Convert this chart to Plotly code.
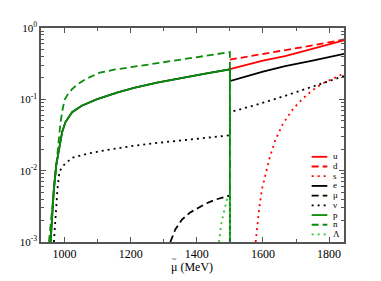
import plotly.graph_objects as go

# ---- data ----
mu_n = [953, 958, 963, 968, 973, 980, 988, 995, 1001, 1012, 1023, 1040, 1062, 1107, 1150, 1200, 1250, 1300, 1355, 1400, 1450, 1500, 1500]
n_val = [0.001, 0.0018, 0.003, 0.0055, 0.0098, 0.022, 0.048, 0.075, 0.1, 0.122, 0.139, 0.163, 0.19, 0.237, 0.26, 0.282, 0.305, 0.33, 0.363, 0.39, 0.425, 0.459, 1e-6]

mu_p = [958, 963, 968, 975, 983, 993, 1003, 1023, 1052, 1097, 1161, 1210, 1280, 1355, 1430, 1500, 1500]
p_val = [0.001, 0.0025, 0.0057, 0.012, 0.0204, 0.035, 0.048, 0.066, 0.0815, 0.1, 0.125, 0.145, 0.172, 0.202, 0.232, 0.264, 1e-6]

mu_e = [958, 963, 968, 975, 983, 993, 1003, 1023, 1052, 1097, 1161, 1210, 1280, 1355, 1430, 1500, 1500, 1600, 1667, 1750, 1845]
e_val = [0.001, 0.0025, 0.0057, 0.012, 0.0204, 0.035, 0.048, 0.066, 0.0815, 0.1, 0.125, 0.145, 0.172, 0.202, 0.232, 0.264, 0.18, 0.245, 0.293, 0.35, 0.435]

mu_nu = [968, 972, 975, 979, 985, 998, 1023, 1072, 1122, 1206, 1280, 1355, 1430, 1500, 1500, 1588, 1667, 1750, 1845]
nu_val = [0.001, 0.002, 0.0033, 0.0057, 0.0098, 0.012, 0.0152, 0.0174, 0.0193, 0.0222, 0.0245, 0.0266, 0.029, 0.0313, 0.066, 0.086, 0.112, 0.15, 0.212]

mu_muon = [1320, 1335, 1355, 1380, 1404, 1430, 1454, 1475, 1500, 1500]
muon_val = [0.001, 0.0015, 0.00206, 0.0026, 0.003, 0.0035, 0.0039, 0.0042, 0.0045, 1e-6]

mu_lam = [1467, 1474, 1480, 1486, 1490, 1500, 1500]
lam_val = [0.001, 0.0018, 0.0024, 0.0031, 0.0038, 0.0046, 1e-6]

mu_q = [1500, 1600, 1667, 1750, 1845]
u_val = [0.265, 0.35, 0.404, 0.51, 0.67]
d_val = [0.36, 0.43, 0.484, 0.57, 0.69]

mu_s = [1578, 1583, 1588, 1597, 1608, 1620, 1637, 1660, 1687, 1710, 1736, 1760, 1786, 1815, 1845]
s_val = [0.001, 0.0018, 0.0028, 0.0055, 0.0092, 0.015, 0.0266, 0.045, 0.0695, 0.092, 0.1185, 0.145, 0.172, 0.2, 0.23]

legend_labels = ["u", "d", "s", "e", "μ", "ν", "p", "n", "Λ"]
x_ticks = [1000, 1200, 1400, 1600, 1800]
y_ticks = [1e-3, 1e-2, 1e-1, 1]
y_ticktext = ["10<sup>-3</sup>", "10<sup>-2</sup>", "10<sup>-1</sup>", "10<sup>0</sup>"]

RED = "#ff0000"
BLACK = "#000000"
GREEN = "#0a8c0a"
LGREEN = "#2fc42f"
SOLID, DASH, DOT = "solid", "7px,4px", "2px,4px"
LW = 1.8

styles = [(RED, SOLID), (RED, DASH), (RED, DOT),
          (BLACK, SOLID), (BLACK, DASH), (BLACK, DOT),
          (GREEN, SOLID), (GREEN, DASH), (LGREEN, DOT)]

series = [(mu_q, u_val), (mu_q, d_val), (mu_s, s_val),
          (mu_e, e_val), (mu_muon, muon_val), (mu_nu, nu_val),
          (mu_p, p_val), (mu_n, n_val), (mu_lam, lam_val)]

fig = go.Figure()
for (xs, ys), (c, d), name in zip(series, styles, legend_labels):
    fig.add_trace(go.Scatter(x=xs, y=ys, mode="lines", name=name,
                             line=dict(color=c, dash=d, width=LW), showlegend=False))

# ---- manual compact legend ----
W, H = 381, 281
L, R, T, B = 27, 45, 18, 47
pw, ph = W - L - R, H - T - B

def px2paper(px, py):
    return (px - L) / pw, (H - B - py) / ph

shapes = []
annots = []
for i, ((c, d), name) in enumerate(zip(styles, legend_labels)):
    py = 148.0 + i * 9.8
    x0, y0 = px2paper(303, py)
    x1, _ = px2paper(319, py)
    shapes.append(dict(type="line", xref="paper", yref="paper", x0=x0, x1=x1, y0=y0, y1=y0,
                       line=dict(color=c, dash=d, width=LW)))
    tx, ty = px2paper(324, py - 0.5)
    annots.append(dict(xref="paper", yref="paper", x=tx, y=ty, text=name, showarrow=False,
                       xanchor="left", yanchor="middle", borderpad=0,
                       font=dict(family="Liberation Serif", size=9, color="black")))

# x-axis title with a tilde over mu
tx, ty = px2paper(181, 259.5)
annots.append(dict(xref="paper", yref="paper", x=tx, y=ty, text="μ (MeV)", showarrow=False,
                   xanchor="center", yanchor="middle", borderpad=0,
                   font=dict(family="Liberation Serif", size=12, color="black")))
tx, ty = px2paper(163, 252)
annots.append(dict(xref="paper", yref="paper", x=tx, y=ty, text="~", showarrow=False,
                   xanchor="center", yanchor="middle", borderpad=0,
                   font=dict(family="Liberation Serif", size=8, color="black")))

axis_col = "#555555"
fig.update_layout(
    width=W, height=H,
    margin=dict(l=L, r=R, t=T, b=B),
    paper_bgcolor="white", plot_bgcolor="white",
    font=dict(family="Liberation Serif", color="black", size=12),
    shapes=shapes, annotations=annots,
    xaxis=dict(range=[929, 1845], tickvals=x_ticks, ticks="inside", ticklen=5, tickwidth=1,
               tickcolor=axis_col, showline=True, linecolor=axis_col, linewidth=1.5,
               mirror="allticks", showgrid=False, zeroline=False,
               minor=dict(dtick=100, tick0=1000, ticks="inside", ticklen=3, tickcolor=axis_col),
               tickfont=dict(size=12)),
    yaxis=dict(type="log", range=[-3, 0], tickvals=y_ticks, ticktext=y_ticktext,
               ticks="inside", ticklen=5, tickwidth=1, tickcolor=axis_col,
               showline=True, linecolor=axis_col, linewidth=1.5, mirror="allticks",
               showgrid=False, zeroline=False,
               minor=dict(tickvals=[k * 10 ** e for e in (-3, -2, -1) for k in range(2, 10)],
                          ticks="inside", ticklen=3, tickcolor=axis_col),
               tickfont=dict(size=11)),
)

fig.write_html("out.html")
